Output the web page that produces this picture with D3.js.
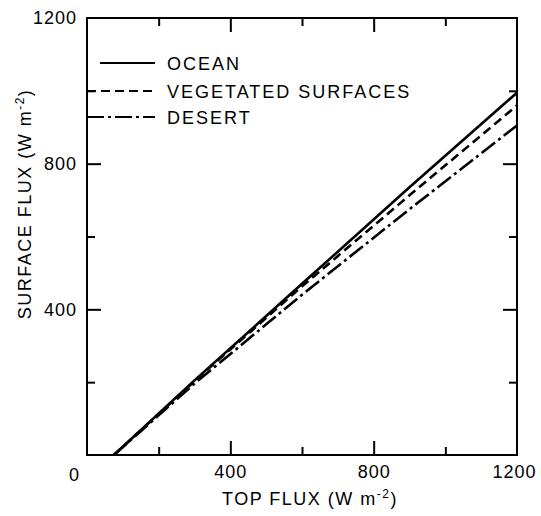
<!DOCTYPE html>
<html>
<head>
<meta charset="utf-8">
<script src="https://cdn.jsdelivr.net/npm/d3@7"></script>
<style>
  body { margin: 0; background: #fff; }
  text { font-family: "Liberation Sans", Arial, sans-serif; fill: #000; }
</style>
</head>
<body>
<svg id="chart" width="541" height="516"></svg>
<script>
// data (W m-2)
var seriesNames = ['OCEAN', 'VEGETATED SURFACES', 'DESERT'];
var topFlux = [75, 300, 600, 900, 1200];
var oceanFlux = [0, 205, 470, 735, 995];
var vegFlux = [0, 203, 463, 713, 960];
var desertFlux = [0, 196, 440, 675, 905];
var majorTicks = [400, 800];
var minorTicks = [200, 600, 1000];
var labelTicks = [400, 800, 1200];

var dashes = ['none', '9,5', '17,4,3,4'];

var svg = d3.select('#chart');

var x = d3.scaleLinear().domain([0, 1200]).range([87, 517]);
var y = d3.scaleLinear().domain([0, 1200]).range([455, 18]);

var series = [oceanFlux, vegFlux, desertFlux].map(function(vals, i) {
    return {name: seriesNames[i], dash: dashes[i],
            pts: vals.map(function(v, j) { return [topFlux[j], v]; })};
});

// inward ticks on all four sides
var addTicks = function(axisFn, vals, len, transform) {
    svg.append('g')
        .attr('transform', transform)
        .call(axisFn.tickValues(vals).tickSize(len).tickFormat(''))
        .call(function(g) { g.select('.domain').remove(); })
        .selectAll('line').attr('stroke', '#000').attr('stroke-width', 2);
};
[[majorTicks, 14], [minorTicks, 8]].forEach(function(t) {
    addTicks(d3.axisBottom(x), t[0], -t[1], 'translate(0,455)');
    addTicks(d3.axisTop(x), t[0], -t[1], 'translate(0,18)');
    addTicks(d3.axisLeft(y), t[0], -t[1], 'translate(87,0)');
    addTicks(d3.axisRight(y), t[0], -t[1], 'translate(517,0)');
});

// frame
svg.append('rect')
    .attr('x', x(0)).attr('y', y(1200))
    .attr('width', x(1200) - x(0)).attr('height', y(0) - y(1200))
    .style('fill', 'none').style('stroke', '#000').style('stroke-width', 2);

// tick labels
var xl = svg.append('g')
    .attr('transform', 'translate(0,455)')
    .call(d3.axisBottom(x).tickValues(labelTicks).tickFormat(d3.format('d')).tickSize(0).tickPadding(10))
    .call(function(g) { g.select('.domain').remove(); });
xl.selectAll('text').style('font-size', '18px').style('letter-spacing', '1px')
    .attr('dx', function(d) { return d == 1200 ? -3 : 0; });

svg.append('g')
    .attr('transform', 'translate(87,0)')
    .call(d3.axisLeft(y).tickValues(labelTicks).tickFormat(d3.format('d')).tickSize(0).tickPadding(10))
    .call(function(g) { g.select('.domain').remove(); })
    .selectAll('text').style('font-size', '18px').style('letter-spacing', '1px');

svg.append('text')
    .attr('x', 74).attr('y', 481)
    .attr('text-anchor', 'middle')
    .style('font-size', '18px')
    .text('0');

// lines
var line = d3.line()
    .x(function(d) { return x(d[0]); })
    .y(function(d) { return y(d[1]); });

svg.selectAll('.flux-line').data(series)
  .enter()
    .append('path')
    .classed('flux-line', true)
    .attr('d', function(d) { return line(d.pts); })
    .style('fill', 'none')
    .style('stroke', '#000')
    .style('stroke-width', 2.6)
    .style('stroke-dasharray', function(d) { return d.dash; });

// legend
var legendY = [63, 91, 117];
var legendX0 = [100, 87, 87];
var legend = svg.selectAll('.legend').data(series)
  .enter()
    .append('g')
    .classed('legend', true)
    .attr('transform', function(d, i) { return 'translate(0,' + legendY[i] + ')'; });

legend.append('line')
    .attr('x1', function(d, i) { return legendX0[i]; })
    .attr('x2', 155)
    .style('stroke', '#000')
    .style('stroke-width', 2.2)
    .style('stroke-dasharray', function(d) { return d.dash; });

legend.append('text')
    .attr('x', 167)
    .attr('y', 7)
    .style('font-size', '18px')
    .style('letter-spacing', '2px')
    .text(function(d) { return d.name; });

// axis titles
var xt = svg.append('text')
    .attr('x', 310).attr('y', 505)
    .attr('text-anchor', 'middle')
    .style('font-size', '18px')
    .style('letter-spacing', '1.5px');
xt.append('tspan').text('TOP FLUX (W m');
xt.append('tspan').attr('dy', -7).style('font-size', '12px').text('-2');
xt.append('tspan').attr('dy', 7).text(')');

var yt = svg.append('text')
    .attr('transform', 'translate(31,204) rotate(-90)')
    .attr('text-anchor', 'middle')
    .style('font-size', '18px')
    .style('letter-spacing', '1.5px');
yt.append('tspan').text('SURFACE FLUX (W m');
yt.append('tspan').attr('dy', -7).style('font-size', '12px').text('-2');
yt.append('tspan').attr('dy', 7).text(')');
</script>
</body>
</html>
